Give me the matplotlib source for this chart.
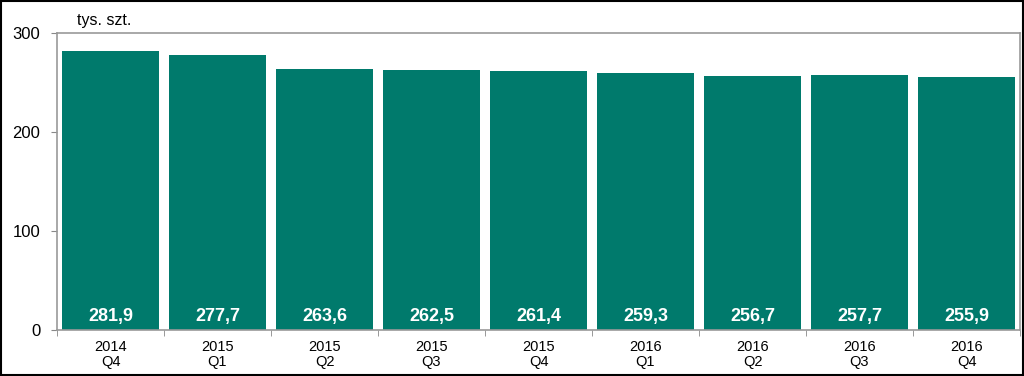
import matplotlib
matplotlib.use("Agg")
import matplotlib.pyplot as plt
from matplotlib.patches import Rectangle

plt.rcParams['font.family'] = ['Liberation Sans', 'DejaVu Sans']

categories = ["2014\nQ4", "2015\nQ1", "2015\nQ2", "2015\nQ3", "2015\nQ4",
              "2016\nQ1", "2016\nQ2", "2016\nQ3", "2016\nQ4"]
values = [281.9, 277.7, 263.6, 262.5, 261.4, 259.3, 256.7, 257.7, 255.9]
labels = ["281,9", "277,7", "263,6", "262,5", "261,4", "259,3", "256,7", "257,7", "255,9"]

fig = plt.figure(figsize=(10.24, 3.76), dpi=100)
ax = fig.add_axes([57/1024, 1-330/376, (1020-57)/1024, (330-33)/376])

x = list(range(len(values)))
bars = ax.bar(x, values, width=0.9, color="#007A6C", zorder=2)
for xi, lab in zip(x, labels):
    ax.text(xi, 14, lab, ha="center", va="center", color="white",
            fontsize=13, fontweight="bold", zorder=3)

ax.set_xlim(-0.5, len(values)-0.5)
ax.set_ylim(0, 300)
ax.set_yticks([0, 100, 200, 300])
ax.tick_params(axis='y', labelsize=12, length=4, color="#888888", direction="out", pad=8)
ax.set_xticks(x)
ax.set_xticklabels(categories, fontsize=10.5, linespacing=1.12)
ax.tick_params(axis='x', length=0, pad=7)
ax.set_xticks([i + 0.5 for i in range(-1, len(values))], minor=True)
ax.tick_params(axis='x', which='minor', length=4, color="#888888", direction="out")
for s in ax.spines.values():
    s.set_color("#999999")
    s.set_linewidth(1.2)

fig.text(77/1024, 1-20/376, "tys. szt.", fontsize=11.5, ha="left", va="center")

fig.patches.append(Rectangle((0.001, 0.002), 0.998, 0.996, transform=fig.transFigure,
                             fill=False, edgecolor="black", linewidth=1.5))

fig.savefig("out.png", dpi=100)
